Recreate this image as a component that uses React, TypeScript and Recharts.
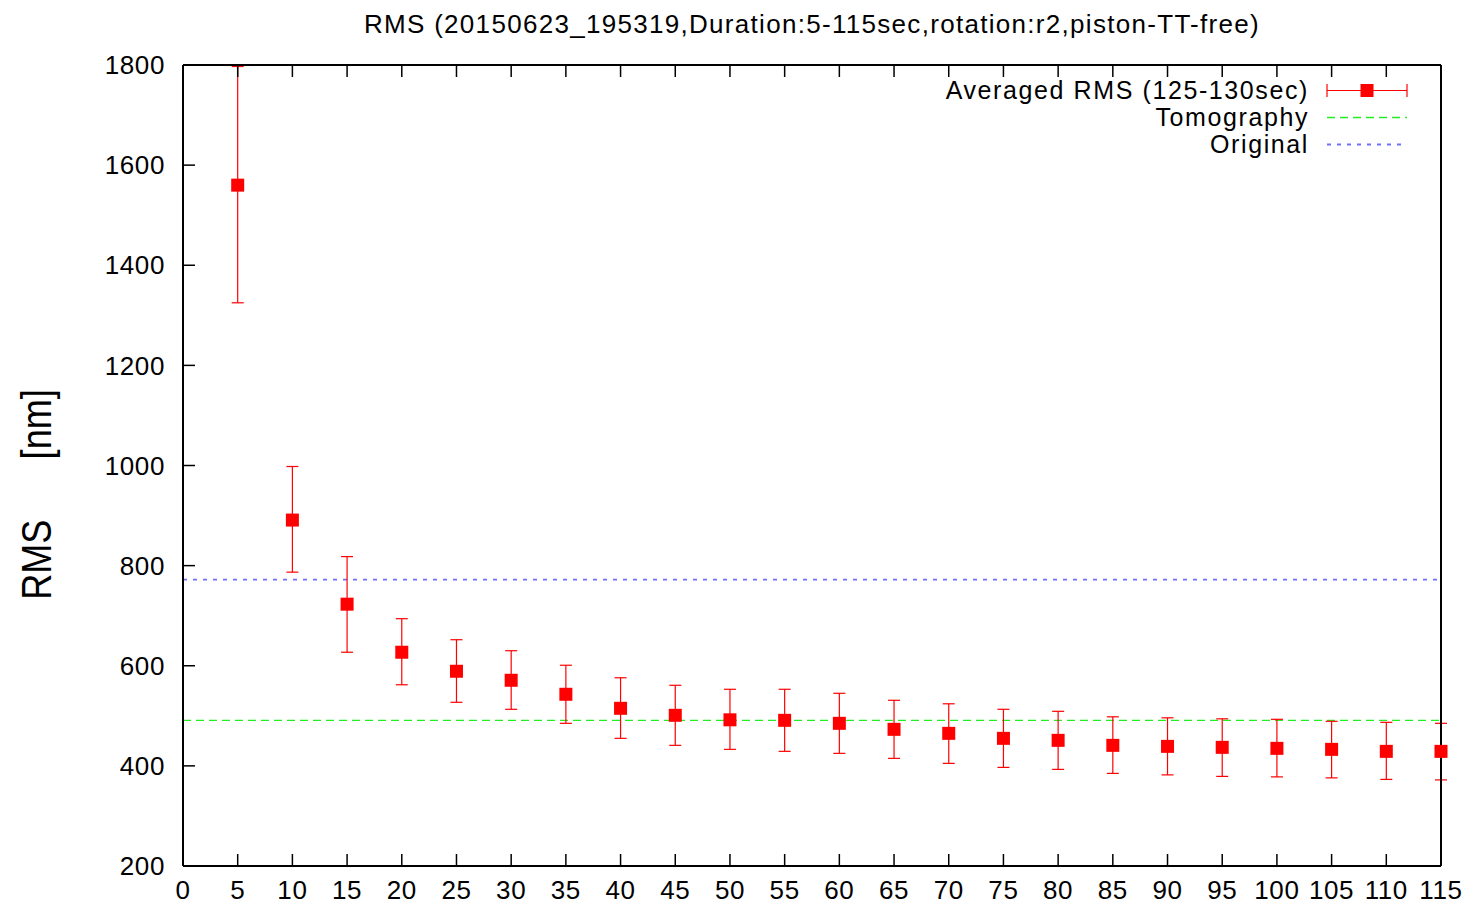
import {
  ComposedChart,
  Scatter,
  ErrorBar,
  XAxis,
  YAxis,
  ReferenceLine,
  Legend,
  Label,
} from "recharts";

// averaging window end (sec) and measured RMS [nm]
const durations = [5, 10, 15, 20, 25, 30, 35, 40, 45, 50, 55, 60, 65, 70, 75, 80, 85, 90, 95, 100, 105, 110, 115];
const rmsValues = [1560, 891, 723, 627, 589, 571, 543, 515, 501, 492, 491, 485, 473, 465, 455, 451, 441, 439, 437, 435, 433, 429, 429];
const errMinus = [235, 104, 96, 65, 62, 58, 58, 60, 60, 59, 62, 60, 58, 60, 58, 58, 56, 57, 58, 57, 57, 56, 57];
const errPlus = [237, 107, 95, 67, 63, 59, 58, 61, 60, 61, 62, 60, 58, 59, 58, 58, 57, 57, 57, 58, 56, 58, 56];

const tomographyRms = 491;
const originalRms = 772;

const xTicks = [0, 5, 10, 15, 20, 25, 30, 35, 40, 45, 50, 55, 60, 65, 70, 75, 80, 85, 90, 95, 100, 105, 110, 115];
const yTicks = [200, 400, 600, 800, 1000, 1200, 1400, 1600, 1800];

const titleText = "RMS (20150623_195319,Duration:5-115sec,rotation:r2,piston-TT-free)";
const legendLabels = ["Averaged RMS (125-130sec)", "Tomography", "Original"];

const RED = "#ff0000";
const GREEN = "#22ee22";
const BLUE = "#7070ff";
const FONT = "'Liberation Sans', Arial, Helvetica, sans-serif";

const TICK_LEN = 12;
const X_MARGIN = 15;
const Y_MARGIN = 18;

const data = durations.map((t, i) => ({
  t,
  rms: rmsValues[i],
  err: [errMinus[i], errPlus[i]],
}));

const axisLine = { stroke: "#000", strokeWidth: 2 };

// gnuplot-style ticks: drawn inward from the border, labels outside
const makeTick = (side: "bottom" | "left" | "top" | "right", gap: number, withLabel: boolean) => (props: any) => {
  const { x, y, payload } = props;
  let line;
  if (side === "bottom") line = { x1: x, y1: y - gap, x2: x, y2: y - gap - TICK_LEN };
  else if (side === "top") line = { x1: x, y1: y + gap, x2: x, y2: y + gap + TICK_LEN };
  else if (side === "left") line = { x1: x + gap, y1: y, x2: x + gap + TICK_LEN, y2: y };
  else line = { x1: x - gap, y1: y, x2: x - gap - TICK_LEN, y2: y };
  return (
    <g>
      <line {...line} stroke="#000" strokeWidth={1.5} />
      {withLabel && (
        <text
          x={x}
          y={y}
          dy={side === "bottom" ? "0.71em" : "0.355em"}
          textAnchor={side === "bottom" ? "middle" : "end"}
          fontSize={26}
          fontFamily={FONT}
          fill="#000"
          style={{ letterSpacing: 0.6 }}
        >
          {payload.value}
        </text>
      )}
    </g>
  );
};

const SquareMark = (props: any) => {
  const { cx, cy } = props;
  if (cx == null || cy == null) return <g />;
  return <rect x={cx - 6.5} y={cy - 6.5} width={13} height={13} fill={RED} />;
};

const YTitle = (props: any) => {
  const vb = props.viewBox;
  const cx = vb.x + 36;
  const cy = vb.y + vb.height / 2 + 29;
  return (
    <text
      transform={`translate(${cx},${cy}) rotate(-90) scale(0.84,1)`}
      textAnchor="middle"
      dominantBaseline="central"
      fontSize={43}
      fontFamily={FONT}
      fill="#000"
      style={{ whiteSpace: "pre" }}
    >
      {"RMS      [nm]"}
    </text>
  );
};

function LegendSample({ kind }: { kind: number }) {
  if (kind === 0) {
    return (
      <svg width={92} height={27}>
        <line x1={7} y1={13.5} x2={87} y2={13.5} stroke={RED} strokeWidth={1.2} />
        <line x1={7} y1={7} x2={7} y2={20} stroke={RED} strokeWidth={1.2} />
        <line x1={87} y1={7} x2={87} y2={20} stroke={RED} strokeWidth={1.2} />
        <rect x={40.5} y={7} width={13} height={13} fill={RED} />
      </svg>
    );
  }
  if (kind === 1) {
    return (
      <svg width={92} height={27}>
        <line x1={7} y1={13.5} x2={87} y2={13.5} stroke={GREEN} strokeWidth={1.3} strokeDasharray="8 5" />
      </svg>
    );
  }
  return (
    <svg width={92} height={27}>
      <line x1={7} y1={13.5} x2={83} y2={13.5} stroke={BLUE} strokeWidth={1.8} strokeDasharray="4 6" />
    </svg>
  );
}

const LegendBox = () => (
  <div style={{ fontFamily: FONT, fontSize: 25, color: "#000", lineHeight: "27px" }}>
    {legendLabels.map((label, i) => (
      <div key={label} style={{ display: "flex", alignItems: "center", justifyContent: "flex-end", height: 27 }}>
        <span style={{ letterSpacing: 1.6, marginRight: 11, whiteSpace: "nowrap" }}>{label}</span>
        <LegendSample kind={i} />
      </div>
    ))}
  </div>
);

export default function App() {
  return (
    <div style={{ position: "absolute", left: 0, top: 0, background: "#fff" }}>
      <ComposedChart
        width={1470}
        height={905}
        data={data}
        margin={{ top: 64, right: 28, bottom: 0, left: 0 }}
        style={{ fontFamily: FONT }}
      >
        <XAxis
          dataKey="t"
          type="number"
          domain={[0, 115]}
          ticks={xTicks}
          interval={0}
          height={39}
          tickSize={0}
          tickMargin={X_MARGIN}
          axisLine={axisLine}
          tickLine={false}
          tick={makeTick("bottom", X_MARGIN, true)}
        />
        <XAxis
          xAxisId="top"
          orientation="top"
          dataKey="t"
          type="number"
          domain={[0, 115]}
          ticks={xTicks}
          interval={0}
          height={1}
          tickSize={0}
          tickMargin={4}
          axisLine={axisLine}
          tickLine={false}
          tick={makeTick("top", 4, false)}
        >
          <Label
            value={titleText}
            position="top"
            offset={31}
            fontSize={26}
            fill="#000"
            fontFamily={FONT}
            style={{ letterSpacing: 1.3 }}
          />
        </XAxis>
        <YAxis
          type="number"
          domain={[200, 1800]}
          ticks={yTicks}
          interval={0}
          width={183}
          tickSize={0}
          tickMargin={Y_MARGIN}
          axisLine={axisLine}
          tickLine={false}
          tick={makeTick("left", Y_MARGIN, true)}
        >
          <Label content={YTitle} />
        </YAxis>
        <YAxis
          yAxisId="right"
          orientation="right"
          type="number"
          domain={[200, 1800]}
          ticks={yTicks}
          interval={0}
          width={1}
          tickSize={0}
          tickMargin={4}
          axisLine={axisLine}
          tickLine={false}
          tick={makeTick("right", 4, false)}
        />
        <ReferenceLine y={tomographyRms} stroke={GREEN} strokeWidth={1.3} strokeDasharray="8 5" />
        <ReferenceLine y={originalRms} stroke={BLUE} strokeWidth={1.8} strokeDasharray="4 6" />
        <Scatter dataKey="rms" fill={RED} shape={SquareMark} isAnimationActive={false}>
          <ErrorBar dataKey="err" direction="y" width={6} stroke={RED} strokeWidth={1.2} isAnimationActive={false} />
        </Scatter>
        <Legend
          layout="vertical"
          align="center"
          verticalAlign="middle"
          content={LegendBox}
          wrapperStyle={{ top: 77, left: "auto", right: 58, width: "auto", height: "auto" }}
        />
      </ComposedChart>
    </div>
  );
}
